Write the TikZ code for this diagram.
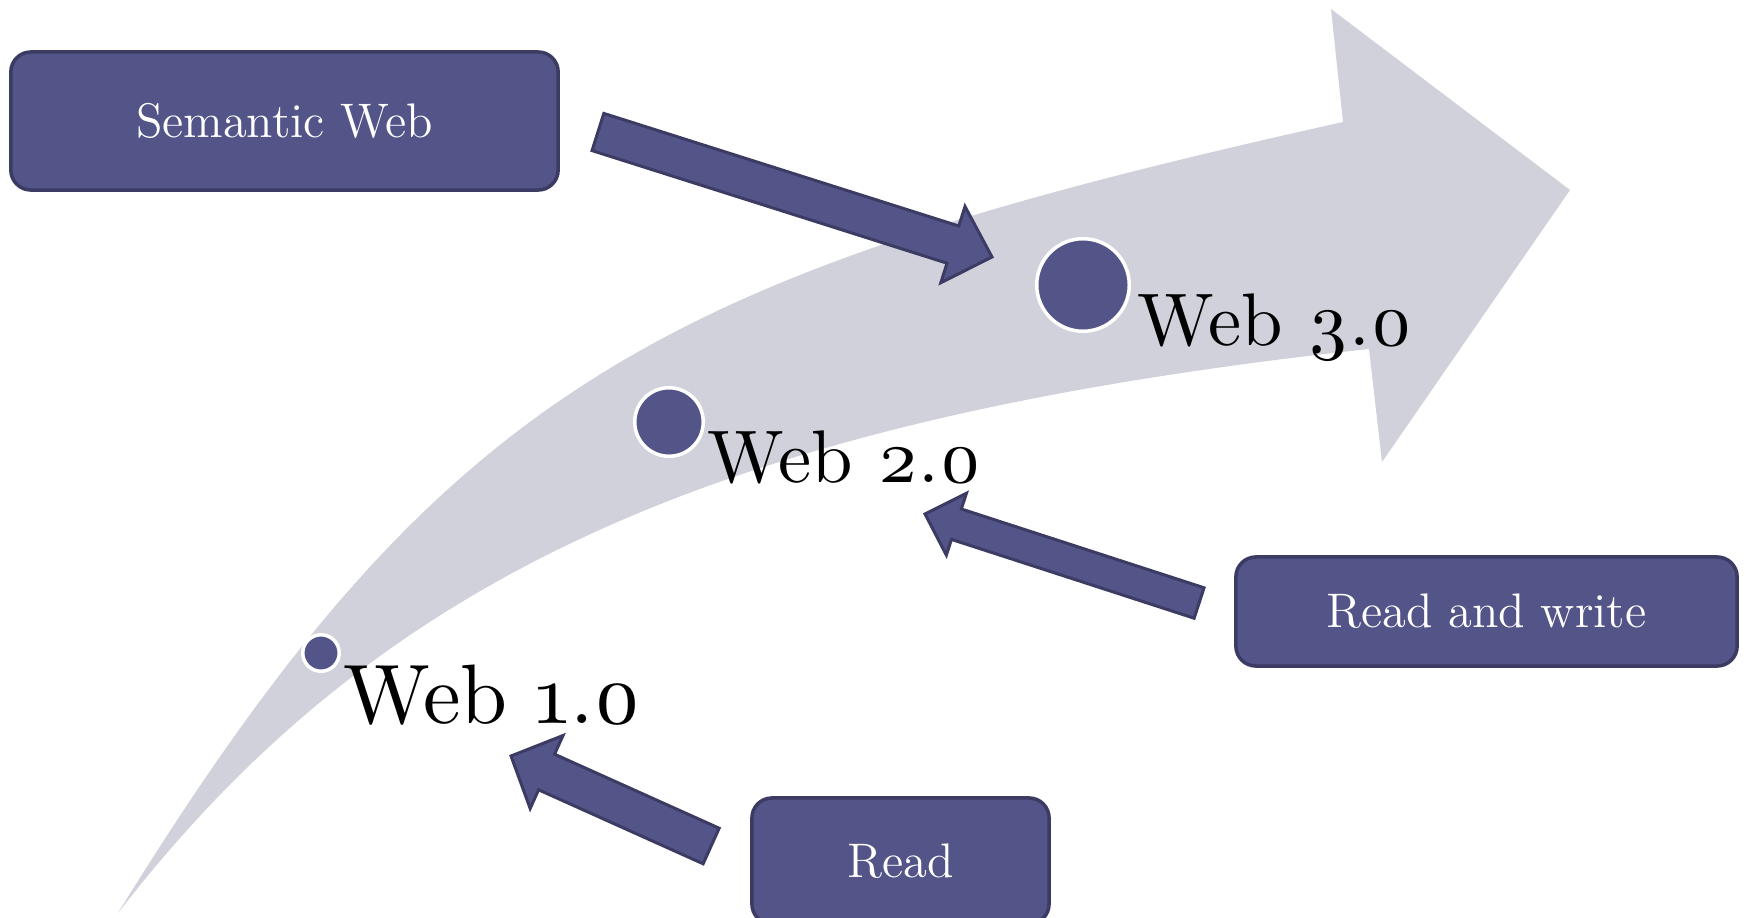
\documentclass[tikz,border=0pt]{standalone}
\usepackage{fontspec}
\usetikzlibrary{calc}
\newfontfamily\webfont{lmroman10-regular.otf}[Numbers=OldStyle]
\definecolor{bandgray}{RGB}{208,209,219}
\definecolor{boxfill}{RGB}{83,84,136}
\definecolor{boxline}{RGB}{59,59,99}

% block arrow from tail #1 to tip #2: half shaft width #3, half head width #4, head length #5
\newcommand\blockarrow[5]{%
  \coordinate (#1-hb) at ($(#2)!#5!(#1)$);
  \draw[blockarrowstyle]
    ($(#1)!#3!90:(#2)$) -- ($(#1-hb)!#3!90:(#2)$) -- ($(#1-hb)!#4!90:(#2)$) --
    (#2) --
    ($(#1-hb)!#4!-90:(#2)$) -- ($(#1-hb)!#3!-90:(#2)$) -- ($(#1)!#3!-90:(#2)$) -- cycle;
}

\begin{document}
\begin{tikzpicture}[x=0.01cm,y=-0.01cm,
  stagebox/.style={draw=boxline, fill=boxfill, line width=1pt, rounded corners=0.2cm,
    text=white, font=\fontsize{13.8}{16}\selectfont, inner sep=0pt},
  dot/.style={circle, fill=boxfill, draw=white, line width=1pt, inner sep=0pt},
  weblabel/.style={anchor=base west, inner sep=0pt, font=\webfont\fontsize{21.2}{24}\selectfont},
  blockarrowstyle/.style={fill=boxfill, draw=boxline, line width=0.85pt, line join=miter}
]
\useasboundingbox (0,0) rectangle (1745,918);

% curved timeline arrow
\fill[bandgray] (118,913) .. controls (444,385) and (660,274) .. (1343,122)
  -- (1331,9) -- (1570,190) -- (1382,462) -- (1369,349)
  .. controls (723,419) and (381,573) .. cycle;

% stages on the timeline
\node[dot, minimum size=0.365cm] (d1) at (321,653) {};
\node[dot, minimum size=0.685cm] (d2) at (669,422) {};
\node[dot, minimum size=0.925cm] (d3) at (1083,285) {};

\node[weblabel, font=\webfont\fontsize{24}{28}\selectfont] (w1) at (343,723) {Web 1.0};
\node[weblabel] (w2) at (707,482) {Web 2.0};
\node[weblabel] (w3) at (1137,345) {Web 3.0};

% descriptions
\node[stagebox, minimum width=5.47cm, minimum height=1.38cm] (sw) at (284.5,121) {Semantic Web};
\node[stagebox, minimum width=5.01cm, minimum height=1.09cm] (rw) at (1486.5,611.5) {Read and write};
\node[stagebox, minimum width=2.97cm, minimum height=1.26cm] (rd) at (900.5,861) {Read};

% pointers from descriptions to stages
\coordinate (sw-tail) at ($(sw.east)+(38,11)$);
\coordinate (sw-tip) at ($(d3.center)+(-91,-28)$);
\blockarrow{sw-tail}{sw-tip}{0.195cm}{0.4cm}{0.41cm}

\coordinate (rw-tail) at ($(rw.west)+(-35,-8.5)$);
\coordinate (rw-tip) at (925,514);
\blockarrow{rw-tail}{rw-tip}{0.16cm}{0.325cm}{0.33cm}

\coordinate (rd-tail) at ($(rd.west)+(-39,-15)$);
\coordinate (rd-tip) at (511,756);
\blockarrow{rd-tail}{rd-tip}{0.195cm}{0.4cm}{0.39cm}
\end{tikzpicture}
\end{document}
